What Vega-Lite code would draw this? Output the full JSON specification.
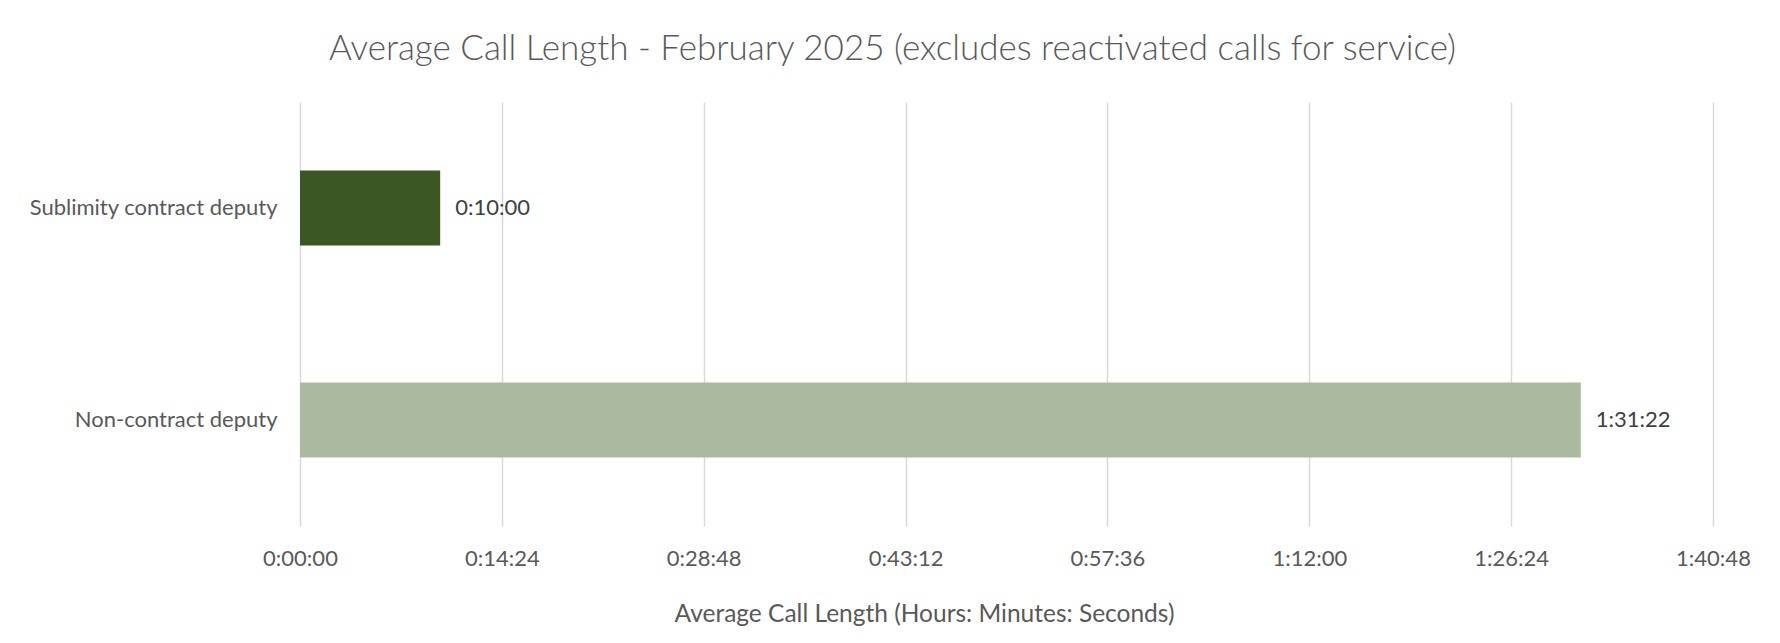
{
  "$schema": "https://vega.github.io/schema/vega-lite/v6.json",
  "autosize": {"type": "none"},
  "padding": {"left": 300, "top": 102, "right": 67, "bottom": 117},
  "width": 1413,
  "height": 424,
  "background": "white",
  "title": {
    "text": "Average Call Length - February 2025 (excludes reactivated calls for service)",
    "font": "Lato",
    "fontWeight": 300,
    "fontSize": 35,
    "color": "#595959",
    "anchor": "middle",
    "frame": "group",
    "dx": -114,
    "baseline": "middle",
    "offset": 18
  },
  "data": {
    "values": [
      {"deputy": "Sublimity contract deputy", "seconds": 600, "label": "0:10:00"},
      {"deputy": "Non-contract deputy", "seconds": 5482, "label": "1:31:22"}
    ]
  },
  "encoding": {
    "y": {
      "field": "deputy",
      "type": "nominal",
      "sort": ["Sublimity contract deputy", "Non-contract deputy"],
      "scale": {"paddingInner": 0, "paddingOuter": 0},
      "axis": {
        "title": null,
        "ticks": false,
        "domain": false,
        "labelPadding": 23,
        "labelLimit": 400,
        "labelFont": "Lato",
        "labelFontSize": 22,
        "labelColor": "#595959"
      }
    },
    "x": {
      "field": "seconds",
      "type": "quantitative",
      "scale": {"domain": [0, 6048], "nice": false, "zero": true},
      "axis": {
        "title": "Average Call Length (Hours: Minutes: Seconds)",
        "values": [0, 864, 1728, 2592, 3456, 4320, 5184, 6048],
        "labelExpr": "floor(datum.value/3600) + ':' + pad('' + floor((datum.value % 3600)/60), 2, '0', 'left') + ':' + pad('' + (datum.value % 60), 2, '0', 'left')",
        "ticks": false,
        "domain": false,
        "grid": true,
        "gridColor": "#D9D9D9",
        "gridWidth": 1.5,
        "labelFont": "Lato",
        "labelFontSize": 22,
        "labelColor": "#595959",
        "labelBaseline": "middle",
        "labelPadding": 32,
        "labelFlush": false,
        "labelOverlap": false,
        "titleFont": "Lato",
        "titleFontSize": 24.5,
        "titleFontWeight": "normal",
        "titleColor": "#595959",
        "titleBaseline": "middle",
        "titleX": 624,
        "titleY": 88
      }
    }
  },
  "layer": [
    {
      "mark": {"type": "bar", "height": 75},
      "encoding": {
        "color": {
          "field": "deputy",
          "type": "nominal",
          "scale": {
            "domain": ["Sublimity contract deputy", "Non-contract deputy"],
            "range": ["#3B5724", "#ABB9A0"]
          },
          "legend": null
        }
      }
    },
    {
      "mark": {
        "type": "text",
        "align": "left",
        "baseline": "middle",
        "dx": 15,
        "font": "Lato",
        "fontSize": 22,
        "color": "#404040"
      },
      "encoding": {"text": {"field": "label"}}
    }
  ],
  "config": {"view": {"stroke": null}}
}
